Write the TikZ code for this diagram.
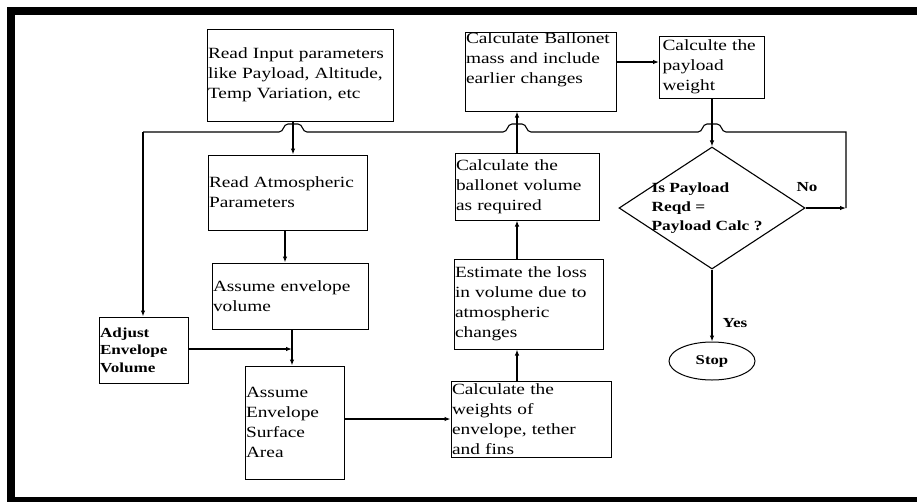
\documentclass[tikz,border=0pt]{standalone}
\usepackage{fontspec}
\setmainfont{Liberation Serif}[FakeStretch=1.24]
\usetikzlibrary{arrows.meta,shapes.geometric}
\begin{document}
\begin{tikzpicture}[x=1pt,y=-1pt,
  box/.style={draw, line width=1pt, inner xsep=1pt, inner ysep=0pt, align=left,
    font=\fontsize{15.6}{20}\selectfont},
  sbox/.style={box, font=\bfseries\fontsize{13.8}{17.5}\selectfont},
  ln/.style={line width=1.1pt},
  arr/.style={ln, -{Latex[length=6pt,width=4.5pt]}},
  lbl/.style={font=\bfseries\fontsize{13.8}{16}\selectfont, inner sep=0pt}]
\useasboundingbox (0,0) rectangle (917,501);
\clip (0,0) rectangle (917,501);
\fill[white] (0,0) rectangle (917,501);
\draw[line width=8pt] (11,11) rectangle (940,501);

% boxes
\node[box, minimum width=186pt, minimum height=92pt, text width=184pt] (in) at (300,75)
  {Read Input parameters\\like Payload, Altitude,\\Temp Variation, etc};
\node[box, minimum width=159pt, minimum height=75pt, text width=157pt] (atm) at (287.5,192.5)
  {Read Atmospheric\\Parameters};
\node[box, minimum width=156pt, minimum height=66pt, text width=154pt] (env) at (290,296)
  {Assume envelope\\volume};
\node[sbox, minimum width=89pt, minimum height=66pt, text width=87pt] (adj) at (143.5,350)
  {Adjust\\Envelope\\Volume};
\node[box, minimum width=99pt, minimum height=113pt, text width=97pt] (surf) at (294.5,422.5)
  {Assume\\Envelope\\Surface\\Area};
\node[box, minimum width=160pt, minimum height=76pt, text width=158pt] (wts) at (531,419)
  {Calculate the\\weights of\\envelope, tether\\and fins};
\node[box, minimum width=149pt, minimum height=90pt, text width=147pt] (est) at (528.5,304)
  {Estimate the loss\\in volume due to\\atmospheric\\changes};
\node[box, minimum width=144pt, minimum height=67pt, text width=142pt] (bvol) at (527,186.5)
  {Calculate the\\ballonet volume\\as required};
\node[box, minimum width=151pt, minimum height=79pt, text width=149pt] (bmass) at (540.5,71.5)
  {\mbox{Calculate Ballonet}\\mass and include\\earlier changes\\\strut};
\node[box, minimum width=105pt, minimum height=62pt, text width=103pt, inner xsep=1pt] (pw) at (712,67)
  {\hspace{2pt}Calculte the\\\hspace{2pt}payload\\\hspace{2pt}weight};
\node[draw, line width=1.1pt, diamond, minimum width=186pt, minimum height=122pt, inner sep=0pt] (dia) at (712,208) {};
\node[align=left, inner sep=0pt, font=\bfseries\fontsize{14}{19}\selectfont] (diat) at (707,208)
  {Is Payload\\Reqd =\\Payload Calc ?};
\node[draw, line width=1pt, ellipse, minimum width=86pt, minimum height=38pt, inner sep=0pt,
  font=\bfseries\fontsize{13.5}{16}\selectfont] (stop) at (712,361) {Stop};

% helper coordinates
\coordinate (c293) at (293,0);
\coordinate (c285) at (285,0);
\coordinate (c292) at (292,0);
\coordinate (c517) at (517,0);
\coordinate (jn) at (292,349);
\coordinate (nc) at (846,208);
\coordinate (tr) at (846,132);
\coordinate (tl) at (143,132);

% connectors
\draw[arr] (in.south -| c293) -- (atm.north -| c293);
\draw[arr] (atm.south -| c285) -- (env.north -| c285);
\draw[arr] (env.south -| c292) -- (surf.north -| c292);
\draw[arr] (adj.east |- jn) -- (jn);
\draw[arr] (surf.east |- wts.west) -- (wts.west);
\draw[arr] (wts.north -| c517) -- (est.south -| c517);
\draw[arr] (est.north -| c517) -- (bvol.south -| c517);
\draw[arr] (bvol.north -| c517) -- (bmass.south -| c517);
\draw[arr] (bmass.east |- 0,62) -- (pw.west |- 0,62);
\draw[arr] (pw.south -| dia.north) -- (dia.north);
\draw[arr] (dia.south) -- node[lbl, right=10pt, pos=0.75] (yes) {Yes} (stop.north);
\draw[arr] (dia.east) -- (nc);
\node[lbl] (no) at (807,187) {No};
\draw[ln] (nc) -- (tr) -- (726,132)
  .. controls (721,132) and (722,124) .. (717,124) -- (707,124)
  .. controls (702,124) and (703,132) .. (698,132)
  -- (531,132)
  .. controls (526,132) and (527,124) .. (522,124) -- (512,124)
  .. controls (507,124) and (508,132) .. (503,132)
  -- (307,132)
  .. controls (302,132) and (303,124) .. (298,124) -- (288,124)
  .. controls (283,124) and (284,132) .. (279,132)
  -- (tl);
\draw[arr] (tl) -- (adj.north -| tl);
\end{tikzpicture}
\end{document}
